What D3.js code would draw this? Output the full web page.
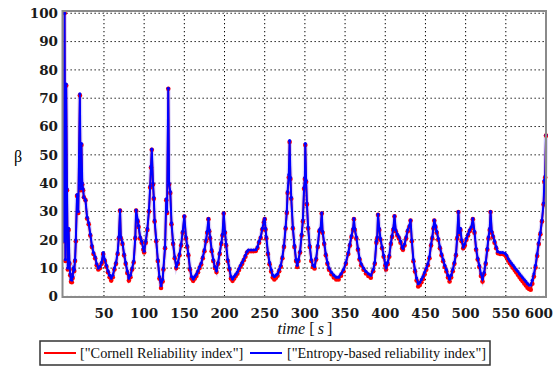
<!DOCTYPE html>
<html><head><meta charset="utf-8">
<script src="https://cdnjs.cloudflare.com/ajax/libs/d3/7.8.5/d3.min.js"></script>
<style>body{margin:0;background:#fff}svg{display:block}</style>
</head><body><svg id="c" width="558" height="367"></svg>
<script>
const times = [0,1,2,3,4,5,6,7,8,9,10,11,12,13,14,15,16.5,18,20,21,22,23,24,25,27,29,31,33,35,37,39,41,43,45,47,49,51,53,55,57,59,61,63,65,67,68.5,70,71,73,75,77,79,81,83,85,87,89,90,92,93,95,97,99,100,102,104,106,107.5,108.5,109.5,111,112,113,115,117,119,121,123,124,126,127.5,128.5,130,131,132.5,134,136,138,140,142,144,146,148,150,152,153.5,155,157,159,161,163,165,167,169,171,173,175,177,178.5,180,181,182,184,186,188,190,192,194,196,197.5,199,200.5,202,204,206,208,210,212,214,216,218,220,222,224,226,228,230,233,236,239,241,243,245,247,249,250,251,252,254,256,258,260,262,264,266,268,270,272,274,276,277.5,278.5,280,281,282,283,285,287,289,290.5,292,294,296,297.5,299,300,300.5,301.5,302.5,304,306,308,310,312,314,316,318,319.5,321,322,324,326,328,330,333,336,339,342,345,348,351,354,356,358,360,361,362,364,366,368,370,373,376,379,382,385,387,389,390,391,392.5,394,396,398,400,401,403,405,407,408.5,410,411.5,413,415,417,419,421,422,424,426,428,430,431.5,433,435,437,439,441,443,445,447,449,451,453,455,457,458.5,460,461,462.5,464,466,468,470,472,474,476,478,480,482,484,486,488,489.5,491,492,493.5,495,497,499,501,503,505,507,509,511,513,515,517,519,521,523,525,527,528.5,530,531,532.5,534,536,538,540,543,546,549,551,553,555,557,559,561,563,565,567,569,571,573,575,577,579,581,583,585,587,589,591,593,595,597,598,599,600];
const entropy = [19.5,100,13,75,38,10,24,12,8,6,5.8,7,10,9.5,13,20,36,30,71.5,38,54,40,38,35,34,28,26,22,18,15.5,14,11.5,10,10.5,12,15.5,13,11,9,7.5,6.5,7.5,10,12,15.5,21,30.5,21,19,15,12,9,6.5,7.5,10,12.5,21,30.5,27,25,21,19.5,17,16,19.5,24,30.5,39,46,52,40,35,27,20,13,7,3.8,6,10,17.5,34.5,30,73.5,40,37,26,19,14,10.5,12,15,18.5,23,28.5,21,18,15,10,7,6.2,7,7.8,9,10.5,11.8,14,16.5,20,23,27.5,23.5,21,16.5,13,10.5,9.2,12,15.5,19,22,29.5,23,18.5,13,10,7,6.2,7,7.8,8.6,9.8,11,12,13.2,14.5,15.8,16.4,16.4,16.4,16.5,17.5,19.5,21,24,26.5,27.5,24,21,15.5,12,9.5,7.5,7,7.5,8,9.5,11,14,18,24.5,30,37,43,55,42,35,24.5,18,13,11,13,16,22,27,38.5,42,54,41,33,24.5,18,13,11,10.5,13.5,18,23.5,24,29.5,23,19,15,12,10,8.5,7.5,6.8,6.8,8,9.5,12,15.5,18.5,21.5,24,27.5,24,21,17,13.5,11.5,10,8.8,8,7.5,9.5,12,19.5,21,29,24,20.5,17.5,14.5,11.5,10.2,12,14.5,19,21.5,24,28.5,23.5,22,21,19.5,17.5,17,18.5,21,23.5,25,27,20,13,9.5,6.5,4.5,5,6,7,8.5,10,11.5,14,18.5,21,24.5,27,25,23,20.5,17.5,15,13,11,9.5,7.5,6.2,7.5,9.5,12,15,21,30,22.5,24,20,17.5,18.5,20.5,22,23.5,24.5,27.5,23,17,13.5,11,8,6.2,8.5,12,17,21,24,30,23,21.5,19.5,17.5,15.8,15.5,15.5,15.2,14.5,13.3,12.5,11.7,11,10.2,9.5,8.8,8,7.3,6.6,5.9,5.2,4.5,4,4,5.7,8,11,15,19,22.5,27,33,41,42.5,57];
const cornell = [19.5,100,12.5,74.5,37.5,9.5,23.5,11.5,7.5,5.2,5,6.5,9.5,9,12.5,19.5,35.5,29.5,71,37.5,53.5,39.5,37.5,35,34,27.5,25.5,21.5,17.5,15,13.5,11,9.5,10,11.5,15,12.5,10.5,8.5,6.8,5.6,6.8,9.5,11.5,15,20.5,30.3,20.5,18.5,14.5,11.5,8.3,5.6,6.8,9.5,12,20.5,30.3,26.5,24.5,20.5,19,16.5,15.5,19,23.5,30,38.5,45.5,51.8,39.5,34.5,26.5,19.5,12.5,6.3,3,5.3,9.5,17,34,29.5,73.3,39.5,36.5,25.5,18.5,13.5,10,11.5,14.5,18,22.5,28.2,20.5,17.5,14.5,9.5,6.3,5.5,6.3,7.2,8.5,10,11.3,13.5,16,19.5,22.5,27.3,23,20.5,16,12.5,10,8.6,11.5,15,18.5,21.5,29.3,22.5,18,12.5,9.5,6.3,5.5,6.3,7.2,8,9.3,10.5,11.5,12.8,14,15.4,16,16,16,16.1,17.1,19,20.6,23.6,26.2,27.3,23.6,20.5,15,11.4,8.8,6.7,6,6.6,7.3,8.9,10.5,13.5,17.5,24,29.5,36.5,42,54.5,41.5,34.5,24,17.5,12.5,10.4,12.5,15.5,21.5,26.5,38,41.5,53.5,40.5,32.5,24,17.5,12.5,10.4,9.9,13,17.5,23,23.5,29.3,22.5,18.5,14.5,11.5,9.4,7.8,6.7,6,6,7.3,8.9,11.5,15,18,21,23.5,27.3,23.5,20.5,16.5,13,11,9.4,8.1,7.2,6.6,8.9,11.5,19,20.5,28.8,23.5,20,17,14,10.9,9.5,11.4,14,18.5,21,23.5,28.3,23,21.5,20.5,19,17,16.5,18,20.5,23,24.5,26.8,19.5,12.4,8.8,5.6,3.5,4,5,6.2,7.8,9.4,11,13.5,18,20.5,24,26.8,24.5,22.5,20,17,14.5,12.4,10.4,8.8,6.7,5.3,6.7,8.9,11.5,14.5,20.5,29.8,22,23.5,19.5,17,18,20,21.5,23,24,27.3,22.5,16.5,13,10.4,7.2,5.3,7.8,11.5,16.5,20.5,23.5,29.8,22.5,21,19,17,15.3,15,15,14.6,13.8,12.6,11.7,10.9,10.1,9.3,8.5,7.7,6.9,6.1,5.4,4.6,3.9,3.1,2.6,2.4,4.5,7,10.2,14.3,18.5,22,26.5,32.5,40.5,42,56.8];
const xTicks = [50,100,150,200,250,300,350,400,450,500,550,600];
const yTicks = [0,10,20,30,40,50,60,70,80,90,100];
const legendLabels = ['["Cornell Reliability index"]', '["Entropy-based reliability index"]'];
const seriesColors = ["#ff0000", "#0000ff"];

const svg = d3.select("#c");
const L = 62.5, R = 546, T = 11, B = 297;
const x = d3.scaleLinear().domain([-1.6, 600]).range([L, R]);
const y = d3.scaleLinear().domain([-0.2, 100.8]).range([B, T]);

// grid
const g = svg.append("g");
g.selectAll(".vg").data(xTicks).join("line")
  .attr("x1", d => x(d)).attr("x2", d => x(d)).attr("y1", T).attr("y2", B)
  .attr("stroke", "#000").attr("stroke-width", 1).attr("stroke-dasharray", "1.3,2.7");
g.selectAll(".hg").data(yTicks).join("line")
  .attr("y1", d => y(d)).attr("y2", d => y(d)).attr("x1", L).attr("x2", R)
  .attr("stroke", "#000").attr("stroke-width", 1).attr("stroke-dasharray", "1.3,2.7");

const defs = svg.append("defs");
defs.append("clipPath").attr("id", "clip").append("rect")
  .attr("x", L).attr("y", T).attr("width", R - L + 2).attr("height", B - T);

const pts = times.map((t, i) => ({t, e: entropy[i], c: cornell[i]}));
const lineC = d3.line().x(d => x(d.t)).y(d => y(d.c));
const lineE = d3.line().x(d => x(d.t)).y(d => y(d.e));
const plot = svg.append("g").attr("clip-path", "url(#clip)");
plot.append("path").datum(pts).attr("d", lineE).attr("fill", "none")
  .attr("stroke", "#b9a6f0").attr("stroke-opacity", 0.45).attr("stroke-width", 4.5);
plot.append("path").datum(pts).attr("d", lineC).attr("fill", "none")
  .attr("stroke", seriesColors[0]).attr("stroke-width", 1.8);
plot.selectAll(".pc").data(pts).join("circle")
  .attr("cx", d => x(d.t)).attr("cy", d => y(d.c)).attr("r", 2.3).attr("fill", seriesColors[0]);
plot.append("path").datum(pts).attr("d", lineE).attr("fill", "none")
  .attr("stroke", seriesColors[1]).attr("stroke-width", 2);
plot.selectAll(".pe").data(pts).join("circle")
  .attr("cx", d => x(d.t)).attr("cy", d => y(d.e)).attr("r", 1.6).attr("fill", seriesColors[1]);

// frame
const fr = svg.append("g").attr("stroke", "#8a8a8a").attr("stroke-width", 2).attr("fill", "none");
fr.append("rect").attr("x", L).attr("y", T).attr("width", R - L).attr("height", B - T);

// tick labels
const tf = "'DejaVu Serif', serif";
svg.append("g").selectAll("text").data(yTicks).join("text")
  .attr("x", 58).attr("y", d => y(d)).attr("dy", "0.36em").attr("text-anchor", "end")
  .attr("font-family", tf).attr("font-weight", "bold").attr("font-size", 13.5).attr("fill", "#1a1a1a")
  .text(d => d);
svg.append("g").selectAll("text").data(xTicks).join("text")
  .attr("x", d => d === 600 ? 553 : x(d)).attr("y", 318)
  .attr("text-anchor", d => d === 600 ? "end" : "middle")
  .attr("font-family", tf).attr("font-weight", "bold").attr("font-size", 13.5).attr("fill", "#1a1a1a")
  .text(d => d);

// axis titles
const xt = svg.append("text").attr("x", 305).attr("y", 334).attr("text-anchor", "middle")
  .attr("font-family", "'Liberation Serif', serif").attr("font-size", 16).attr("fill", "#111");
xt.append("tspan").attr("font-style", "italic").text("time");
xt.append("tspan").text(" [\u2009");
xt.append("tspan").attr("font-style", "italic").text("s");
xt.append("tspan").text("\u2009]");
svg.append("text").attr("x", 18).attr("y", 162).attr("text-anchor", "middle")
  .attr("font-family", "'Liberation Serif', serif").attr("font-size", 16).attr("fill", "#000").text("β");

// legend
const lg = svg.append("g");
lg.append("rect").attr("x", 40).attr("y", 341).attr("width", 450).attr("height", 24)
  .attr("fill", "#fff").attr("stroke", "#333").attr("stroke-width", 1.5);
const lx = [44, 250], tx = [80, 287];
legendLabels.forEach((lab, i) => {
  lg.append("line").attr("x1", lx[i]).attr("x2", lx[i] + 32).attr("y1", 353).attr("y2", 353)
    .attr("stroke", seriesColors[i]).attr("stroke-width", 2);
  lg.append("text").attr("x", tx[i]).attr("y", 358)
    .attr("font-family", "'Liberation Serif', serif").attr("font-size", 14.3).attr("fill", "#111").text(lab);
});
</script></body></html>
